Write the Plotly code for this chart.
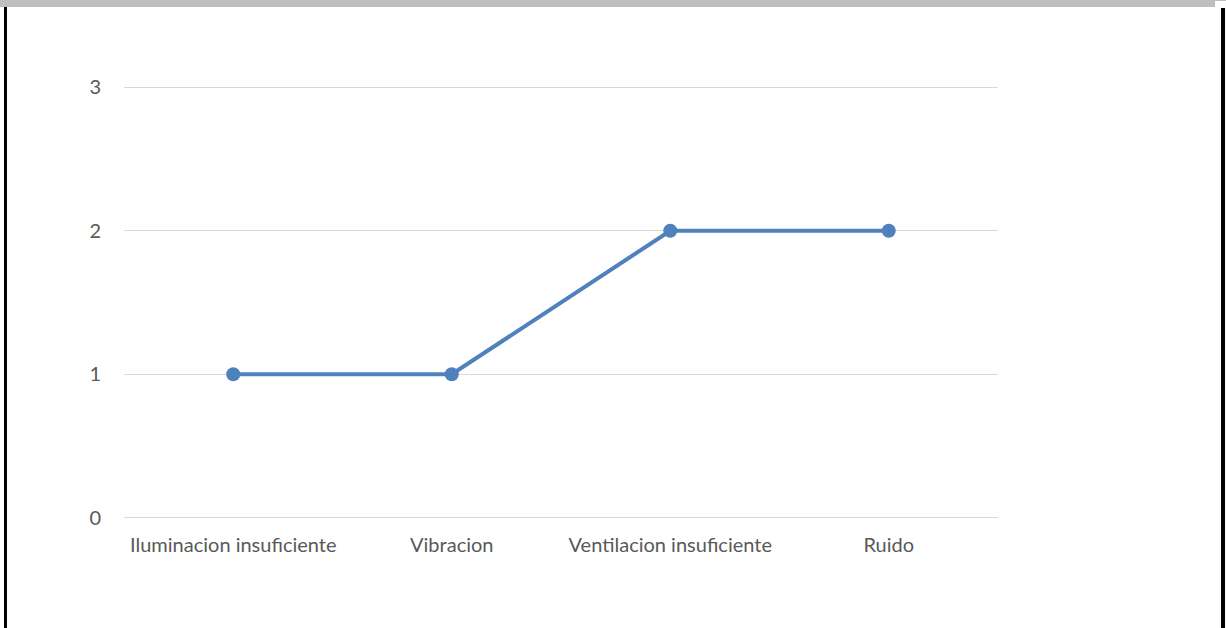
import plotly.graph_objects as go

categories = ["Iluminacion insuficiente", "Vibracion", "Ventilacion insuficiente", "Ruido"]
values = [1, 1, 2, 2]
y_ticks = [0, 1, 2, 3]
y_range = [-0.05, 3.05]

W, H = 1226, 628
L, R, T, B = 124, 228, 80, 103
pw, ph = W - L - R, H - T - B


def px_x(p):
    return (p - L) / pw


def px_y(p):
    return 1 - (p - T) / ph


fig = go.Figure(
    go.Scatter(
        x=categories,
        y=values,
        mode="lines+markers",
        line=dict(color="#4F81BD", width=4),
        marker=dict(color="#4F81BD", size=14),
        cliponaxis=False,
    )
)

frame = [
    # grey strip along the top edge
    dict(x0=px_x(0), x1=px_x(1215), y0=px_y(0), y1=px_y(7), color="#BFBFBF"),
    dict(x0=px_x(1215), x1=px_x(1226), y0=px_y(0), y1=px_y(1), color="#BFBFBF"),
    # black side rules
    dict(x0=px_x(4), x1=px_x(7), y0=px_y(7), y1=px_y(628), color="#000000"),
    dict(x0=px_x(1221), x1=px_x(1225), y0=px_y(8), y1=px_y(628), color="#000000"),
]
for f in frame:
    fig.add_shape(type="rect", xref="paper", yref="paper",
                  x0=f["x0"], x1=f["x1"], y0=f["y0"], y1=f["y1"],
                  fillcolor=f["color"], line_width=0, layer="above")

fig.update_layout(
    width=W,
    height=H,
    margin=dict(l=L, r=R, t=T, b=B, pad=0),
    paper_bgcolor="white",
    plot_bgcolor="white",
    showlegend=False,
    font=dict(family="Lato, Open Sans, sans-serif", size=20, color="#595959"),
    xaxis=dict(
        type="category",
        range=[-0.5, len(categories) - 0.5],
        showgrid=False,
        showline=False,
        zeroline=False,
        ticks="",
        ticklabelstandoff=6,
        tickfont=dict(size=20, color="#595959"),
    ),
    yaxis=dict(
        range=y_range,
        tickvals=y_ticks,
        showgrid=True,
        gridcolor="#D9D9D9",
        gridwidth=1,
        zeroline=False,
        showline=False,
        ticks="",
        ticklabelstandoff=22,
        tickfont=dict(size=20, color="#595959"),
    ),
)

fig.write_html("out.html")
